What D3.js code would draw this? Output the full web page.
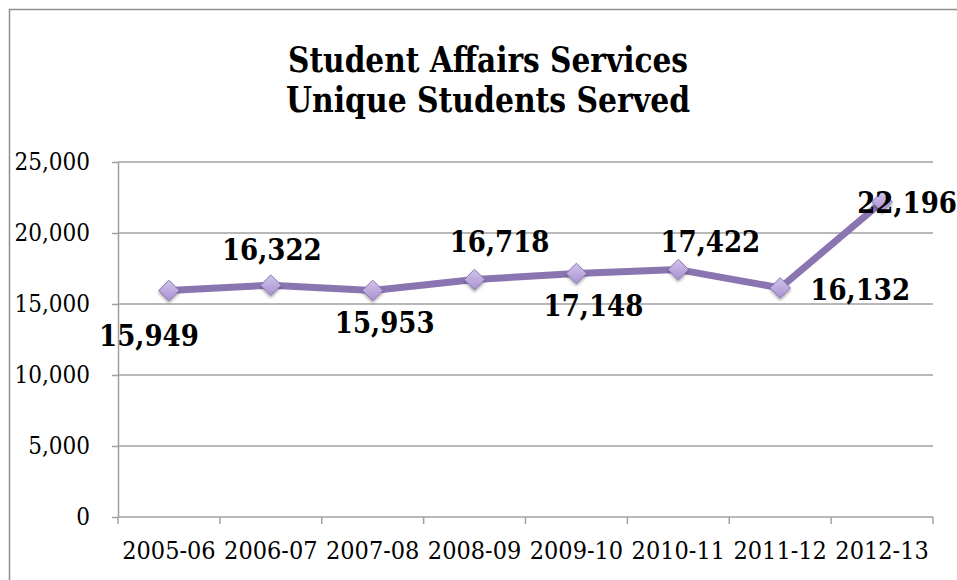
<!DOCTYPE html>
<html>
<head>
<meta charset="utf-8">
<script src="https://cdn.jsdelivr.net/npm/d3@7"></script>
<style>
  html, body { margin: 0; padding: 0; background: #fff; }
  svg { display: block; }
  .serif { font-family: "DejaVu Serif Condensed", "DejaVu Serif", serif; font-stretch: condensed; }
</style>
</head>
<body>
<svg id="chart" width="957" height="580"></svg>
<script>
// Academic years on the category axis
const categories = ["2005-06", "2006-07", "2007-08", "2008-09", "2009-10", "2010-11", "2011-12", "2012-13"];
// Unique students served per year
const students = [15949, 16322, 15953, 16718, 17148, 17422, 16132, 22196];
// Value axis ticks
const yTicks = [0, 5000, 10000, 15000, 20000, 25000];
// Title lines
const titleLines = ["Student Affairs Services", "Unique Students Served"];

// Where each value label sits relative to its marker: [dx, dy of baseline]
const labelOffsets = [[-20, 55], [1, -25], [12, 43], [25, -28], [17, 43], [32, -18], [80, 12], [25, 11]];

const W = 957, H = 580;
const plot = { left: 118, right: 933, top: 162, bottom: 517 };
const lineColor = "#8b75b0";
const gridColor = "#a0a0a0";

const svg = d3.select("#chart");
const defs = svg.append("defs");

const grad = defs.append("linearGradient")
  .attr("id", "markerFill").attr("x1", 0).attr("y1", 0).attr("x2", 0).attr("y2", 1);
grad.append("stop").attr("offset", "0%").attr("stop-color", "#d2c4ec");
grad.append("stop").attr("offset", "100%").attr("stop-color", "#a991d0");

const shadow = defs.append("filter").attr("id", "markerShadow")
  .attr("x", "-50%").attr("y", "-50%").attr("width", "200%").attr("height", "200%");
shadow.append("feDropShadow").attr("dx", 0).attr("dy", 2).attr("stdDeviation", 1.6)
  .attr("flood-color", "#000").attr("flood-opacity", 0.35);

// Chart frame (continues past the right and bottom edges)
svg.append("rect")
  .attr("x", 9.5).attr("y", 9.5).attr("width", 1200).attr("height", 1200)
  .attr("fill", "#fff").attr("stroke", "#8e8e8e").attr("stroke-width", 1.5);

// Title, set in a narrow bold serif
svg.append("g").selectAll("text").data(titleLines).join("text")
  .attr("class", "serif")
  .attr("x", 488).attr("y", (d, i) => 72 + i * 40)
  .attr("text-anchor", "middle")
  .attr("font-size", 36).attr("font-weight", "bold").attr("fill", "#000")
  .attr("textLength", (d, i) => i === 0 ? 400 : 404)
  .attr("lengthAdjust", "spacingAndGlyphs")
  .text(d => d);

const x = d3.scaleBand().domain(categories).range([plot.left, plot.right]).paddingInner(0).paddingOuter(0);
const y = d3.scaleLinear().domain([0, 25000]).range([plot.bottom, plot.top]);
const fmt = d3.format(",");

// Horizontal gridlines
svg.append("g").selectAll("line").data(yTicks.filter(d => d > 0)).join("line")
  .attr("x1", plot.left).attr("x2", plot.right)
  .attr("y1", d => y(d)).attr("y2", d => y(d))
  .attr("stroke", gridColor).attr("stroke-width", 1.5);

// Value axis
const yAxis = svg.append("g")
  .attr("transform", `translate(${plot.left},0)`)
  .call(d3.axisLeft(y).tickValues(yTicks).tickFormat(fmt).tickSizeInner(6).tickSizeOuter(0).tickPadding(22));
yAxis.select(".domain").attr("stroke", gridColor).attr("stroke-width", 1.5);
yAxis.selectAll(".tick line").attr("stroke", gridColor).attr("stroke-width", 1.5);
yAxis.selectAll(".tick text").attr("class", "serif").attr("font-size", 24).attr("fill", "#000").attr("dy", "0.33em");

// Category axis with ticks on category boundaries
const xAxisG = svg.append("g").attr("transform", `translate(0,${plot.bottom})`);
xAxisG.append("line").attr("x1", plot.left).attr("x2", plot.right)
  .attr("stroke", gridColor).attr("stroke-width", 1.5);
const boundaries = categories.map(c => x(c)).concat([plot.right]);
xAxisG.selectAll(".bt").data(boundaries).join("line").attr("class", "bt")
  .attr("x1", d => d).attr("x2", d => d).attr("y1", 0).attr("y2", 7)
  .attr("stroke", gridColor).attr("stroke-width", 1.5);
xAxisG.selectAll(".cl").data(categories).join("text").attr("class", "serif cl")
  .attr("x", d => x(d) + x.bandwidth() / 2).attr("y", 42)
  .attr("text-anchor", "middle").attr("font-size", 25).attr("fill", "#000")
  .text(d => d);

// Series line
const pts = categories.map((c, i) => [x(c) + x.bandwidth() / 2, y(students[i])]);
svg.append("path")
  .attr("d", d3.line()(pts))
  .attr("fill", "none").attr("stroke", lineColor).attr("stroke-width", 7)
  .attr("stroke-linejoin", "round");

// Diamond markers
const diamond = d3.symbol().type(d3.symbolDiamond2).size(270);
svg.append("g").selectAll("path").data(pts).join("path")
  .attr("transform", d => `translate(${d[0]},${d[1]})`)
  .attr("d", diamond)
  .attr("fill", "url(#markerFill)").attr("stroke", lineColor).attr("stroke-width", 1)
  .attr("filter", "url(#markerShadow)");

// Value labels
svg.append("g").selectAll("text").data(students).join("text")
  .attr("class", "serif")
  .attr("x", (d, i) => pts[i][0] + labelOffsets[i][0])
  .attr("y", (d, i) => pts[i][1] + labelOffsets[i][1])
  .attr("text-anchor", "middle")
  .attr("font-size", 29).attr("font-weight", "bold").attr("fill", "#000")
  .text(d => fmt(d));
</script>
</body>
</html>
